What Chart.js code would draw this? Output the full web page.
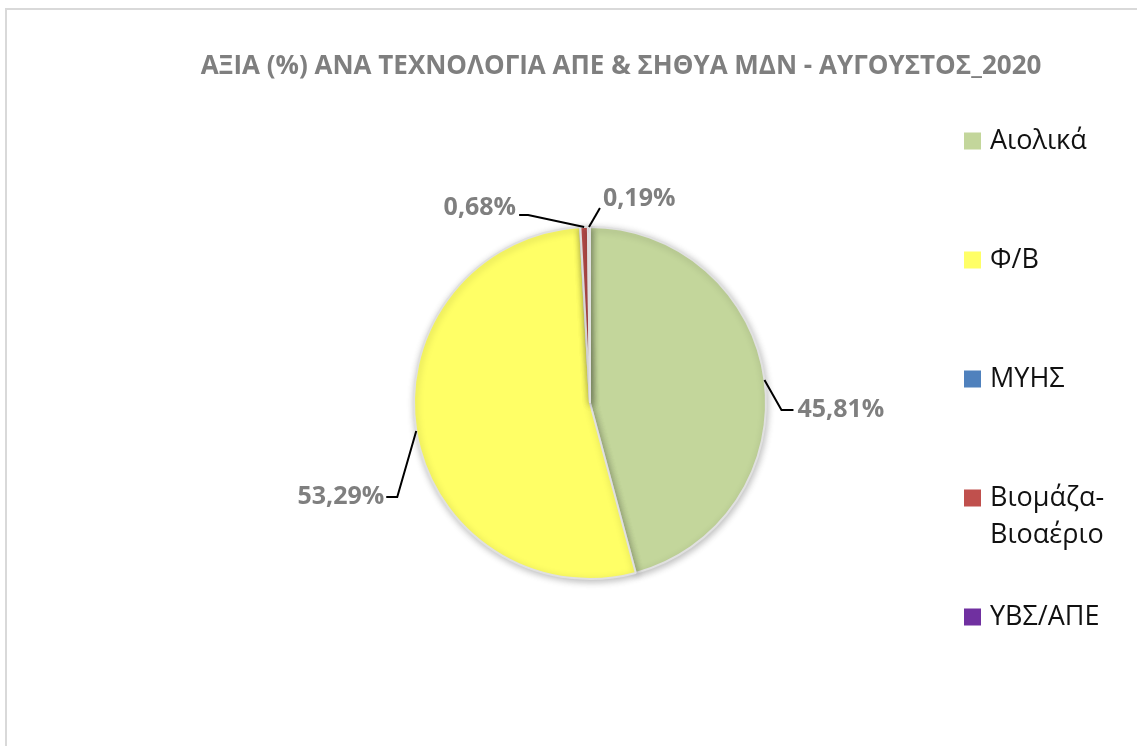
<!DOCTYPE html>
<html>
<head>
<meta charset="utf-8">
<script src="https://cdn.jsdelivr.net/npm/chart.js@4.4.0/dist/chart.umd.min.js"></script>
<style>
  html, body { margin: 0; padding: 0; background: #fff; }
  #wrap { position: relative; width: 1137px; height: 746px; }
</style>
</head>
<body>
<div id="wrap"><canvas id="pie" width="1137" height="746"></canvas></div>
<script>
// data
var categories = ["Αιολικά", "Φ/Β", "ΜΥΗΣ", "Βιομάζα-Βιοαέριο", "ΥΒΣ/ΑΠΕ"];
var legendLines = [["Αιολικά"], ["Φ/Β"], ["ΜΥΗΣ"], ["Βιομάζα-", "Βιοαέριο"], ["ΥΒΣ/ΑΠΕ"]];
var shares = [45.81, 53.29, 0.03, 0.68, 0.19];
var shareLabels = ["45,81%", "53,29%", "", "0,68%", "0,19%"];
var titleText = "ΑΞΙΑ (%) ΑΝΑ ΤΕΧΝΟΛΟΓΙΑ ΑΠΕ & ΣΗΘΥΑ ΜΔΝ - ΑΥΓΟΥΣΤΟΣ_2020";

var sliceColors = ["#c3d69b", "#ffff66", "#4f81bd", "#c0504d", "#7030a0"];
var FONT = "'Open Sans', sans-serif";

// leader line: elbow offset from the arc edge, then a short horizontal run
var leaders = [
    { dx: 17, dy: 30, run: 12, tx: 4, ty: 0 },
    { dx: -19, dy: 66, run: -11, tx: -2, ty: 0 },
    null,
    { dx: -56, dy: -12, run: -9, tx: -3, ty: -7 },
    { dx: 11, dy: -19, run: 0, tx: 3, ty: -9 }
];

var framePlugin = {
    id: "frame",
    beforeDraw: function (chart) {
        var ctx = chart.ctx;
        ctx.save();
        ctx.fillStyle = "#fff";
        ctx.fillRect(0, 0, chart.width, chart.height);
        ctx.strokeStyle = "#d9d9d9";
        ctx.lineWidth = 2;
        ctx.strokeRect(6, 9, 1400, 1000);
        // title
        ctx.fillStyle = "#7f7f7f";
        ctx.font = "bold 26px " + FONT;
        ctx.textAlign = "center";
        ctx.textBaseline = "middle";
        ctx.fillText(titleText, 621, 67);
        ctx.restore();
    },
    beforeDatasetsDraw: function (chart) {
        var ctx = chart.ctx;
        ctx.save();
        ctx.shadowColor = "rgba(0,0,0,0.25)";
        ctx.shadowBlur = 7;
        ctx.shadowOffsetX = 1;
        ctx.shadowOffsetY = 2;
    },
    afterDatasetsDraw: function (chart) {
        var ctx = chart.ctx;
        ctx.restore();
        var meta = chart.getDatasetMeta(0);
        ctx.save();
        meta.data.forEach(function (arc, i) {
            var ld = leaders[i];
            if (!ld || !shareLabels[i]) return;
            var p = arc.getProps(["x", "y", "startAngle", "endAngle", "outerRadius"], true);
            var mid = (p.startAngle + p.endAngle) / 2;
            var ex = p.x + Math.cos(mid) * p.outerRadius;
            var ey = p.y + Math.sin(mid) * p.outerRadius;
            var bx = ex + ld.dx, by = ey + ld.dy;
            var cx = bx + ld.run;
            ctx.strokeStyle = "#000";
            ctx.lineWidth = 2;
            ctx.beginPath();
            ctx.moveTo(ex, ey);
            ctx.lineTo(bx, by);
            ctx.lineTo(cx, by);
            ctx.stroke();
            ctx.fillStyle = "#7f7f7f";
            ctx.font = "bold 25px " + FONT;
            ctx.textBaseline = "middle";
            ctx.textAlign = ld.tx < 0 ? "right" : "left";
            ctx.fillText(shareLabels[i], cx + ld.tx, by + ld.ty);
        });
        ctx.restore();
    },
    afterDraw: function (chart) {
        var ctx = chart.ctx;
        ctx.save();
        var y = 141;
        ctx.font = "27px " + FONT;
        ctx.textBaseline = "middle";
        ctx.textAlign = "left";
        categories.forEach(function (c, i) {
            ctx.fillStyle = sliceColors[i];
            ctx.fillRect(964, y - 8.5, 17, 17);
            ctx.fillStyle = "#111";
            legendLines[i].forEach(function (line, j) {
                ctx.fillText(line, 990, y + j * 37);
            });
            y += 119;
        });
        ctx.restore();
    }
};

new Chart(document.getElementById("pie"), {
    type: "pie",
    data: {
        labels: categories,
        datasets: [{
            data: shares,
            backgroundColor: sliceColors,
            borderColor: "#e0e0e0",
            borderWidth: 2
        }]
    },
    options: {
        responsive: false,
        animation: false,
        events: [],
        layout: { padding: { left: 413, right: 370, top: 226, bottom: 166 } },
        plugins: {
            legend: { display: false },
            tooltip: { enabled: false },
            title: { display: false }
        }
    },
    plugins: [framePlugin]
});
</script>
</body>
</html>
